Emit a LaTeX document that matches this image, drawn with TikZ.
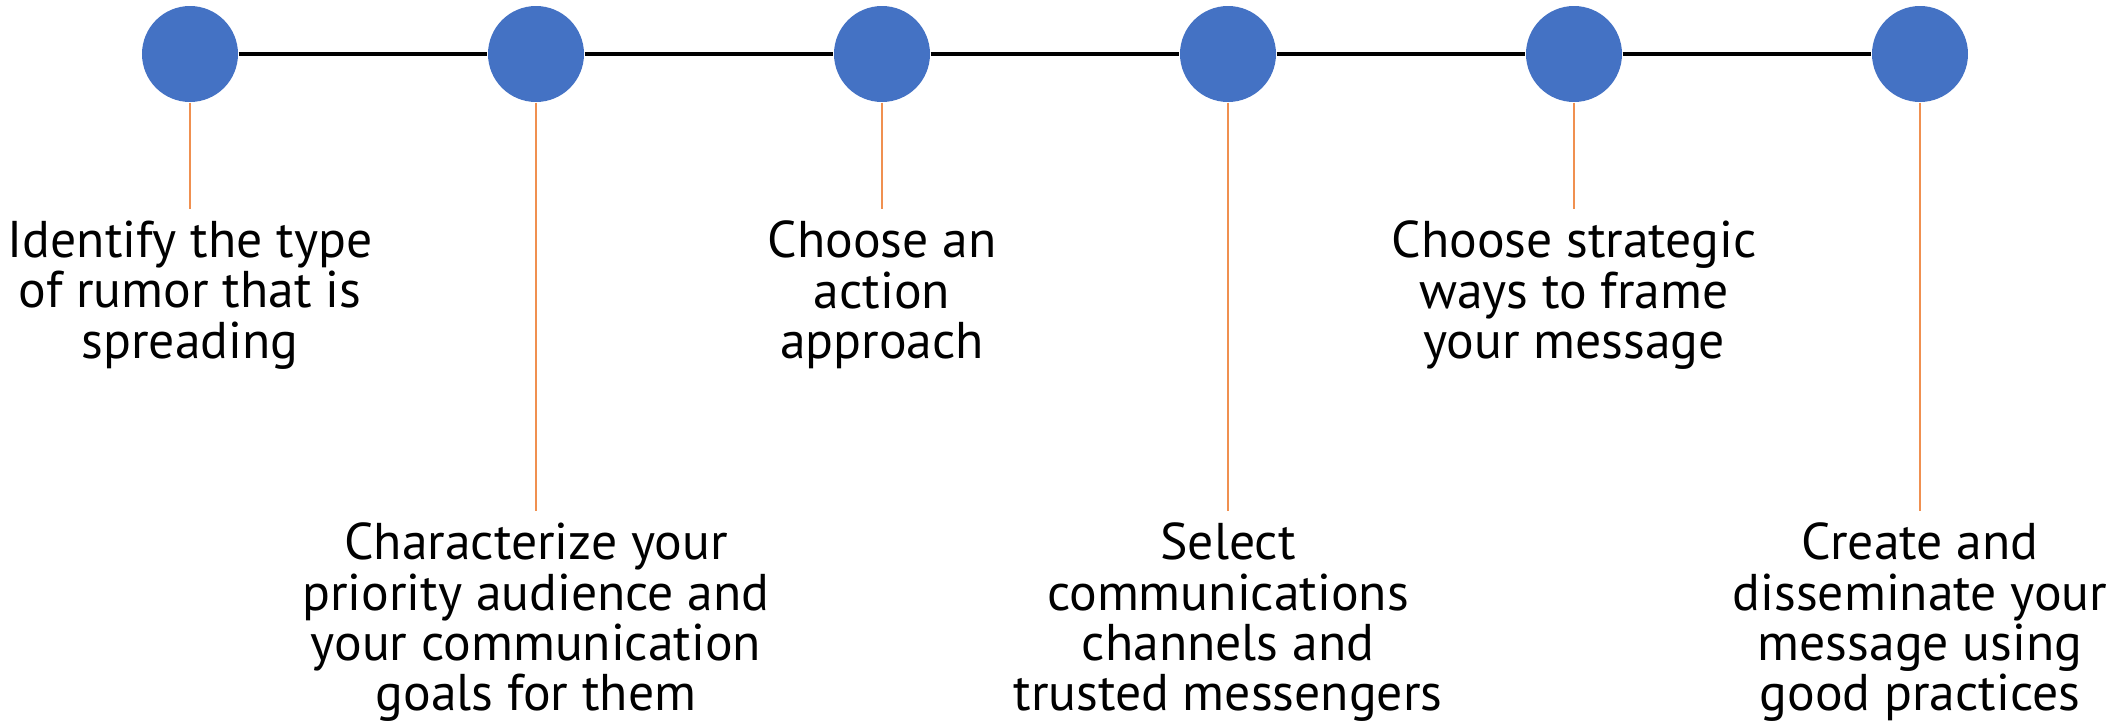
\documentclass[tikz,border=0pt]{standalone}
\usepackage{fontspec}
\setmainfont{PT Sans}
\usepackage{xcolor}
\usetikzlibrary{positioning}

\definecolor{dotblue}{HTML}{4472C4}
\definecolor{tickorange}{HTML}{F09050}

\tikzset{
  dot/.style={circle,fill=dotblue,minimum size=0.96cm,inner sep=0pt},
  stage/.style={align=center,inner sep=3.3pt,font=\fontsize{14.7}{14.3}\selectfont},
  timeline/.style={line width=1.2pt,black},
  tick/.style={tickorange,line width=0.6pt},
}

\begin{document}
\begin{tikzpicture}
        \useasboundingbox (0,0) rectangle (21.26,-7.27);
        % circles on the line
        \node[dot] (c1) at (1.90,-0.54) {};
        \node[dot] (c2) at (5.36,-0.54) {};
        \node[dot] (c3) at (8.82,-0.54) {};
        \node[dot] (c4) at (12.28,-0.54) {};
        \node[dot] (c5) at (15.74,-0.54) {};
        \node[dot] (c6) at (19.20,-0.54) {};
        \draw[timeline] (c1) -- (c2) -- (c3) -- (c4) -- (c5) -- (c6);
        % steps, above and below by turns
        \node[stage,below=1.06cm of c1] (t1) {Identify the type\\of rumor that is\\spreading};
        \node[stage,below=4.08cm of c2] (t2) {Characterize your\\priority audience and\\your communication\\goals for them};
        \node[stage,below=1.06cm of c3] (t3) {Choose an\\action\\approach};
        \node[stage,below=4.08cm of c4] (t4) {Select\\communications\\channels and\\trusted messengers};
        \node[stage,below=1.06cm of c5] (t5) {Choose strategic\\ways to frame\\your message};
        \node[stage,below=4.08cm of c6] (t6) {Create and\\disseminate your\\message using\\good practices};
        \draw[tick] (c1) -- (t1);
        \draw[tick] (c2) -- (t2);
        \draw[tick] (c3) -- (t3);
        \draw[tick] (c4) -- (t4);
        \draw[tick] (c5) -- (t5);
        \draw[tick] (c6) -- (t6);
\end{tikzpicture}
\end{document}
